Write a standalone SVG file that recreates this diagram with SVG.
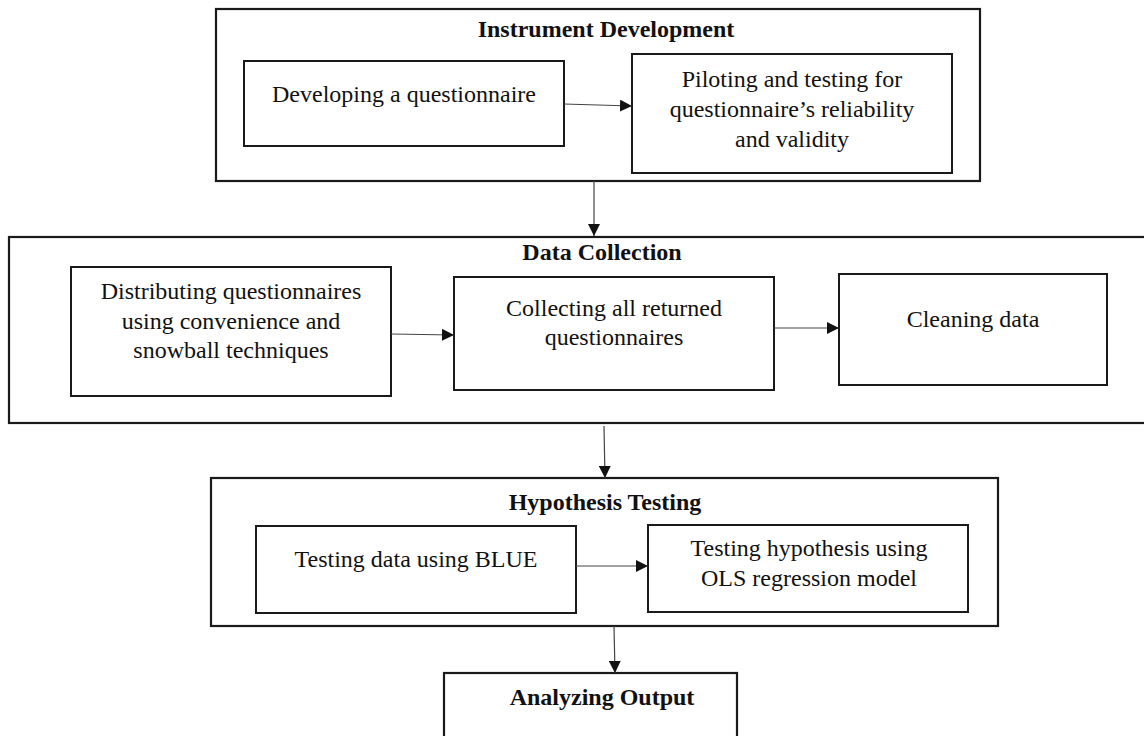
<svg xmlns="http://www.w3.org/2000/svg" width="1144" height="736" viewBox="0 0 1144 736">
  <defs>
    <marker id="arrow" markerWidth="12" markerHeight="12" refX="12" refY="6" orient="auto" markerUnits="userSpaceOnUse">
      <path d="M0,0 L12,6 L0,12 Z" fill="#111"/>
    </marker>
    <style>
      .frame { fill: none; stroke: #1a1a1a; stroke-width: 2.2; }
      .box { fill: #fff; stroke: #1a1a1a; stroke-width: 2; }
      .title { font-family: "Liberation Serif", "Times New Roman", serif; font-size: 24px; font-weight: bold; fill: #111; text-anchor: middle; }
      .label { font-family: "Liberation Serif", "Times New Roman", serif; font-size: 24px; fill: #111; text-anchor: middle; }
      .conn { fill: none; stroke: #444; stroke-width: 1.2; marker-end: url(#arrow); }
    </style>
  </defs>
  <rect width="1144" height="736" fill="#fff"/>

  <!-- Stage 1 -->
  <g id="instrument-development">
    <rect class="frame" x="216" y="9" width="764" height="172"/>
    <text class="title" x="606" y="37">Instrument Development</text>
  </g>
  <g id="developing-questionnaire">
    <rect class="box" x="244" y="61" width="320" height="85"/>
    <text class="label" x="404" y="102">Developing a questionnaire</text>
  </g>
  <g id="piloting-testing">
    <rect class="box" x="632" y="54" width="320" height="119"/>
    <text class="label" x="792" y="87">Piloting and testing for</text>
    <text class="label" x="792" y="117">questionnaire’s reliability</text>
    <text class="label" x="792" y="147">and validity</text>
  </g>

  <!-- Stage 2 -->
  <g id="data-collection">
    <rect class="frame" x="9" y="237" width="1145" height="186"/>
    <text class="title" x="602" y="260">Data Collection</text>
  </g>
  <g id="distributing-questionnaires">
    <rect class="box" x="71" y="267" width="320" height="129"/>
    <text class="label" x="231" y="299">Distributing questionnaires</text>
    <text class="label" x="231" y="329">using convenience and</text>
    <text class="label" x="231" y="358">snowball techniques</text>
  </g>
  <g id="collecting-questionnaires">
    <rect class="box" x="454" y="277" width="320" height="113"/>
    <text class="label" x="614" y="316">Collecting all returned</text>
    <text class="label" x="614" y="345">questionnaires</text>
  </g>
  <g id="cleaning-data">
    <rect class="box" x="839" y="274" width="268" height="111"/>
    <text class="label" x="973" y="327">Cleaning data</text>
  </g>

  <!-- Stage 3 -->
  <g id="hypothesis-testing">
    <rect class="frame" x="211" y="478" width="787" height="148"/>
    <text class="title" x="605" y="510">Hypothesis Testing</text>
  </g>
  <g id="testing-blue">
    <rect class="box" x="256" y="526" width="320" height="87"/>
    <text class="label" x="416" y="567">Testing data using BLUE</text>
  </g>
  <g id="testing-ols">
    <rect class="box" x="648" y="525" width="320" height="87"/>
    <text class="label" x="809" y="556">Testing hypothesis using</text>
    <text class="label" x="809" y="586">OLS regression model</text>
  </g>

  <!-- Stage 4 -->
  <g id="analyzing-output">
    <rect class="frame" x="444" y="673" width="293" height="80"/>
    <text class="title" x="602" y="705">Analyzing Output</text>
  </g>

  <!-- Connectors -->
  <g id="connectors">
    <line class="conn" x1="564" y1="104" x2="632" y2="106"/>
    <line class="conn" x1="594" y1="181" x2="594" y2="236"/>
    <line class="conn" x1="391" y1="334" x2="454" y2="335"/>
    <line class="conn" x1="774" y1="328" x2="839" y2="328"/>
    <line class="conn" x1="604" y1="426" x2="605" y2="478"/>
    <line class="conn" x1="576" y1="566" x2="648" y2="566"/>
    <line class="conn" x1="614" y1="626" x2="615" y2="673"/>
  </g>
</svg>
